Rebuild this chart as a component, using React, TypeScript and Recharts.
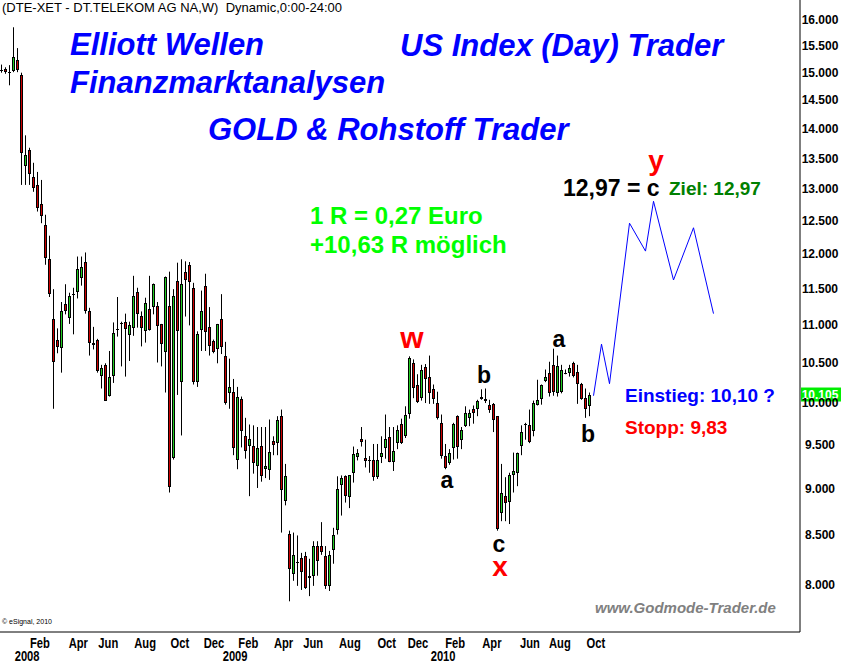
import { Bar, ComposedChart, Line, ReferenceLine, XAxis, YAxis } from "recharts";

// Weekly candles DTE (Xetra), one entry per week, index = position on the time axis
const OPEN = [
  15.05, 15.06, 15.0, 15.03, 15.23, 14.96, 13.38, 13.64, 13.2, 13.07, 12.77, 12.44, 11.94, 11.08, 10.81, 10.69,
  11.29, 11.1, 11.43, 11.46, 11.65, 11.89, 11.2, 10.77, 10.81, 10.34, 10.48, 10.09, 10.34, 10.93, 11.02, 11.04,
  10.86, 10.97, 11.46, 11.13, 10.93, 11.23, 11.26, 11.27, 11.02, 10.65, 11.27, 9.35, 11.61, 10.27, 11.74, 11.85,
  11.51, 10.27, 10.93, 11.55, 10.98, 10.79, 10.69, 11.08, 10.6, 10.12, 10.14, 9.33, 10.05, 9.6, 9.49, 9.49,
  9.25, 9.49, 9.23, 9.21, 9.54, 9.52, 9.84, 8.86, 8.51, 8.11, 8.22, 8.27, 8.29, 8.07, 8.09, 8.39,
  8.39, 8.29, 7.99, 8.35, 8.56, 9.04, 9.14, 8.91, 9.17, 9.36, 9.57, 9.35, 9.32, 9.32, 9.13, 9.36,
  9.47, 9.59, 9.3, 9.52, 9.74, 9.6, 9.87, 10.5, 10.23, 10.07, 10.45, 10.33, 10.18, 10.0, 9.76, 9.37,
  9.3, 9.47, 9.84, 9.56, 9.72, 9.82, 9.93, 9.92, 10.08, 10.05, 9.98, 9.99, 9.84, 8.73, 8.92, 8.86,
  9.15, 9.18, 9.48, 9.75, 9.73, 9.66, 9.98, 10.04, 10.27, 10.37, 10.48, 10.13, 10.13, 10.38, 10.37, 10.5,
  10.39, 10.24, 10.06, 9.96,
];
const HIGH = [
  15.15, 15.1, 15.14, 15.86, 15.46, 15.0, 13.89, 13.68, 13.43, 13.28, 13.15, 12.6, 12.28, 11.5, 10.96, 11.32,
  11.57, 11.45, 11.52, 11.97, 11.97, 12.03, 11.24, 10.98, 10.82, 10.48, 10.5, 10.66, 11.04, 11.39, 11.05, 11.16,
  11.05, 11.69, 11.52, 11.19, 11.38, 11.69, 11.58, 11.32, 11.02, 11.68, 11.75, 11.5, 11.88, 11.93, 11.9, 11.89,
  11.59, 10.92, 11.48, 11.72, 11.25, 10.81, 11.02, 11.43, 10.78, 10.56, 10.3, 10.2, 10.08, 9.82, 9.74, 9.73,
  9.71, 9.71, 9.71, 9.8, 9.6, 9.84, 9.92, 9.28, 8.55, 8.53, 8.5, 8.32, 8.33, 8.26, 8.44, 8.44,
  8.64, 8.39, 8.34, 8.58, 9.14, 9.15, 9.15, 9.15, 9.48, 9.45, 9.71, 9.56, 9.37, 9.51, 9.51, 9.6,
  9.86, 9.71, 9.71, 9.73, 9.81, 9.96, 10.59, 10.55, 10.36, 10.48, 10.49, 10.6, 10.23, 10.14, 9.86, 9.51,
  9.45, 9.76, 9.85, 9.71, 9.96, 9.92, 9.97, 10.04, 10.17, 10.18, 10.04, 10.0, 9.84, 9.28, 9.13, 9.18,
  9.41, 9.41, 9.73, 9.76, 9.92, 10.03, 10.29, 10.23, 10.42, 10.52, 10.69, 10.6, 10.48, 10.42, 10.48, 10.52,
  10.48, 10.25, 10.18, 10.13,
];
const LOW = [
  15.0, 14.98, 14.77, 15.01, 15.01, 13.07, 13.07, 13.07, 12.96, 12.65, 12.47, 11.85, 11.39, 9.93, 10.63, 10.38,
  11.15, 11.02, 10.88, 11.37, 11.55, 11.16, 10.6, 10.68, 10.38, 10.18, 10.03, 10.08, 10.25, 10.85, 10.46, 10.33,
  10.53, 10.86, 10.97, 10.72, 10.77, 10.93, 11.15, 10.51, 10.46, 10.13, 8.96, 9.33, 10.1, 9.61, 11.12, 11.0,
  10.23, 10.2, 10.66, 10.66, 10.6, 10.63, 10.5, 10.62, 9.98, 9.93, 9.38, 9.22, 9.47, 9.34, 8.92, 9.17,
  9.01, 9.08, 9.12, 9.1, 9.38, 9.38, 8.53, 8.82, 7.84, 8.04, 7.99, 7.95, 7.96, 7.89, 7.99, 8.09,
  8.3, 7.96, 7.94, 8.21, 8.51, 8.71, 8.85, 8.79, 9.07, 9.32, 9.48, 9.24, 9.18, 9.09, 9.11, 9.29,
  9.34, 9.3, 9.2, 9.45, 9.51, 9.58, 9.81, 10.06, 10.0, 10.03, 10.0, 9.99, 9.99, 9.8, 9.34, 9.22,
  9.27, 9.33, 9.34, 9.45, 9.71, 9.72, 9.75, 9.84, 10.04, 10.0, 9.88, 9.65, 8.55, 8.65, 8.65, 8.62,
  8.96, 9.03, 9.38, 9.56, 9.52, 9.6, 9.97, 9.98, 10.26, 10.08, 10.09, 10.08, 10.12, 10.36, 10.33, 10.32,
  9.99, 10.04, 9.82, 9.84,
];
const CLOSE = [
  15.03, 15.0, 15.01, 15.29, 15.05, 13.59, 13.56, 13.25, 13.02, 12.71, 12.58, 11.94, 11.44, 10.51, 10.72, 11.19,
  11.19, 11.41, 11.41, 11.79, 11.81, 11.2, 10.77, 10.75, 10.41, 10.44, 10.03, 10.33, 10.9, 10.95, 11.03, 10.94,
  11.0, 11.41, 11.16, 10.97, 11.31, 10.95, 11.58, 11.0, 10.75, 11.68, 9.02, 11.41, 10.92, 11.58, 11.62, 11.61,
  10.26, 10.89, 11.19, 10.92, 10.73, 10.65, 11.02, 10.7, 10.0, 10.2, 9.47, 10.08, 9.66, 9.42, 9.57, 9.29,
  9.46, 9.15, 9.26, 9.42, 9.49, 9.79, 8.99, 9.14, 8.15, 8.3, 8.23, 8.13, 7.97, 8.09, 8.39, 8.24,
  8.33, 7.99, 8.3, 8.5, 9.0, 9.12, 8.92, 9.15, 9.39, 9.41, 9.53, 9.32, 9.33, 9.13, 9.32, 9.41,
  9.57, 9.3, 9.43, 9.67, 9.52, 9.85, 10.57, 10.18, 10.02, 10.42, 10.3, 10.13, 10.06, 9.82, 9.37, 9.23,
  9.41, 9.75, 9.47, 9.68, 9.88, 9.88, 9.88, 10.02, 10.05, 10.02, 9.92, 9.79, 8.57, 8.95, 8.84, 9.16,
  9.2, 9.41, 9.65, 9.74, 9.53, 10.0, 10.04, 10.22, 10.32, 10.12, 10.14, 10.47, 10.41, 10.37, 10.44, 10.34,
  10.24, 10.05, 9.93, 10.1,
];

// Projected wave path (blue)
const PROJ_WEEKS = [148, 150, 152, 157, 161, 163, 168, 173, 178];
const PROJ_VALUES = [10.09, 10.75, 10.24, 12.47, 12.05, 12.81, 11.63, 12.4, 11.16];

const MONTH_LABELS = ["Feb", "Apr", "Jun", "Aug", "Oct", "Dec", "Feb", "Apr", "Jun", "Aug", "Oct", "Dec", "Feb", "Apr", "Jun", "Aug", "Oct"];
const MONTH_WEEKS = [9.6, 19.2, 26.7, 35.9, 44.6, 53.1, 61.7, 70.5, 77.9, 87.1, 96.3, 104.1, 113.4, 122.6, 132.1, 139.6, 148.6];
const YEAR_LABELS = ["2008", "2009", "2010"];
const YEAR_WEEKS = [6.4, 58.4, 110.4];
const PRICE_TICKS = [8, 8.5, 9, 9.5, 10, 10.5, 11, 11.5, 12, 12.5, 13, 13.5, 14, 14.5, 15, 15.5, 16];
const LAST_PRICE = 10.105;

const UP = "#22cc22";
const DOWN = "#cc0000";
const FONT = '"Liberation Sans", Arial, sans-serif';

const data = Array.from({ length: 179 }, (_, k) => {
  const pi = PROJ_WEEKS.indexOf(k);
  return {
    k,
    range: k < OPEN.length ? [LOW[k], HIGH[k]] : undefined,
    o: OPEN[k],
    c: CLOSE[k],
    proj: pi >= 0 ? PROJ_VALUES[pi] : undefined,
  };
});

function Candle(props: any) {
  const { payload } = props;
  let { x, y, width, height } = props;
  if (!payload || payload.o == null) return null;
  if (height < 0) {
    y += height;
    height = -height;
  }
  const cx = Math.floor(x + width / 2) + 0.5;
  const hi = payload.range[1];
  const lo = payload.range[0];
  const span = Math.log(hi) - Math.log(lo) || 1;
  // open/close placed inside the high-low bar on the same log scale
  const toY = (v: number) => y + (height * (Math.log(hi) - Math.log(v))) / span;
  const yo = toY(payload.o);
  const yc = toY(payload.c);
  const top = Math.round(Math.min(yo, yc));
  const h = Math.max(Math.round(Math.abs(yo - yc)), 1);
  const up = payload.c >= payload.o;
  return (
    <g>
      <rect x={cx - 0.5} y={y} width={1} height={Math.max(height, 1)} fill="#000" />
      <rect x={cx - 1.5} y={top} width={3} height={h} fill="#000" />
      {h > 2 && <rect x={cx - 0.5} y={top + 1} width={1} height={h - 2} fill={up ? UP : DOWN} />}
    </g>
  );
}

// condensed bold labels (Arial Narrow look)
function NarrowText({ x, y, children }: { x: number; y: number; children: any }) {
  return (
    <text
      transform={`translate(${x},${y}) scale(0.8,1)`}
      textAnchor="middle"
      dominantBaseline="central"
      fontFamily={FONT}
      fontWeight="bold"
      fontSize={14}
      fill="#000"
    >
      {children}
    </text>
  );
}

function MonthTick(props: any) {
  const { x, y, index } = props;
  return <NarrowText x={x} y={y + 12}>{MONTH_LABELS[index]}</NarrowText>;
}

function YearTick(props: any) {
  const { x, y, index } = props;
  return <NarrowText x={x} y={y + 6}>{YEAR_LABELS[index]}</NarrowText>;
}

function PriceTick(props: any) {
  const { x, y, payload } = props;
  return (
    <text x={x + 20} y={y} textAnchor="middle" dominantBaseline="central" fontFamily={FONT} fontWeight="bold" fontSize={12} fill="#000">
      {Number(payload.value).toFixed(3)}
    </text>
  );
}

function LastTag(props: any) {
  const vb = props.viewBox || {};
  const x = vb.x + vb.width + 1;
  return (
    <g>
      <rect x={x} y={vb.y - 7} width={40} height={14} fill="#00ee00" />
      <text x={x + 19} y={vb.y} textAnchor="middle" dominantBaseline="central" fontFamily={FONT} fontWeight="bold" fontSize={12} fill="#fff">
        {LAST_PRICE.toFixed(3)}
      </text>
    </g>
  );
}

type TxtProps = { x: number; y: number; size: number; color: string; italic?: boolean; bold?: boolean; center?: boolean; children: any };

function Txt({ x, y, size, color, italic, bold = true, center, children }: TxtProps) {
  return (
    <div
      style={{
        position: "absolute",
        left: x,
        top: y,
        transform: center ? "translate(-50%, -50%)" : "translate(0, -50%)",
        fontFamily: FONT,
        fontSize: size,
        lineHeight: 0.9,
        fontWeight: bold ? "bold" : "normal",
        fontStyle: italic ? "italic" : "normal",
        color,
        whiteSpace: "pre",
      }}
    >
      {children}
    </div>
  );
}

export default function App() {
  return (
    <div style={{ position: "absolute", left: 0, top: 0, width: 841, height: 665, background: "#fff" }}>
      <ComposedChart width={841} height={665} data={data} margin={{ top: 0, right: 0, bottom: 0, left: 0 }}>
        <XAxis
          dataKey="k"
          type="number"
          domain={[-0.375, 199.625]}
          allowDataOverflow
          ticks={MONTH_WEEKS}
          interval={0}
          tick={<MonthTick />}
          tickLine={false}
          tickSize={0}
          tickMargin={0}
          axisLine={{ stroke: "#000" }}
          height={19}
        />
        <XAxis
          xAxisId="yr"
          dataKey="k"
          type="number"
          domain={[-0.375, 199.625]}
          allowDataOverflow
          ticks={YEAR_WEEKS}
          interval={0}
          tick={<YearTick />}
          tickLine={false}
          tickSize={0}
          tickMargin={0}
          axisLine={false}
          height={14}
        />
        <YAxis
          orientation="right"
          scale="log"
          domain={[7.55, 16.4]}
          allowDataOverflow
          ticks={PRICE_TICKS}
          interval={0}
          tick={<PriceTick />}
          tickLine={false}
          tickSize={0}
          tickMargin={0}
          axisLine={{ stroke: "#000" }}
          width={41}
        />
        <Bar dataKey="range" barSize={4} shape={<Candle />} isAnimationActive={false} />
        <Line dataKey="proj" type="linear" stroke="#0000ff" strokeWidth={1} dot={false} connectNulls isAnimationActive={false} />
        <ReferenceLine y={LAST_PRICE} stroke="none" ifOverflow="visible" label={<LastTag />} />
      </ComposedChart>

      <Txt x={2} y={8} size={13} color="#000" bold={false}>(DTE-XET - DT.TELEKOM AG NA,W)  Dynamic,0:00-24:00</Txt>
      <Txt x={70} y={45} size={31} color="#0000ff" italic>Elliott Wellen</Txt>
      <Txt x={70} y={83} size={31} color="#0000ff" italic>Finanzmarktanalysen</Txt>
      <Txt x={400} y={46} size={31} color="#0000ff" italic>US Index (Day) Trader</Txt>
      <Txt x={208} y={130} size={31} color="#0000ff" italic>GOLD &amp; Rohstoff Trader</Txt>
      <Txt x={310} y={216} size={24} color="#00ff00">1 R = 0,27 Euro</Txt>
      <Txt x={310} y={245} size={24} color="#00ff00">+10,63 R möglich</Txt>
      <Txt x={656} y={161} size={28} color="#ff0000" center>y</Txt>
      <Txt x={563} y={188} size={23} color="#000">12,97 = c</Txt>
      <Txt x={669} y={189} size={19} color="#008000">Ziel: 12,97</Txt>
      <Txt x={412} y={337} size={30} color="#ff0000" center>w</Txt>
      <Txt x={447} y={480} size={23} color="#000" center>a</Txt>
      <Txt x={484} y={375} size={23} color="#000" center>b</Txt>
      <Txt x={499} y={544} size={23} color="#000" center>c</Txt>
      <Txt x={500} y={567} size={28} color="#ff0000" center>x</Txt>
      <Txt x={559} y={339} size={23} color="#000" center>a</Txt>
      <Txt x={588} y={434} size={23} color="#000" center>b</Txt>
      <Txt x={625} y={396} size={19} color="#0000ff">Einstieg: 10,10 ?</Txt>
      <Txt x={625} y={428} size={19} color="#ff0000">Stopp: 9,83</Txt>
      <Txt x={595} y={608} size={15} color="#808080" italic>www.Godmode-Trader.de</Txt>
      <Txt x={2} y={622} size={7} color="#000" bold={false}>© eSignal, 2010</Txt>
    </div>
  );
}
